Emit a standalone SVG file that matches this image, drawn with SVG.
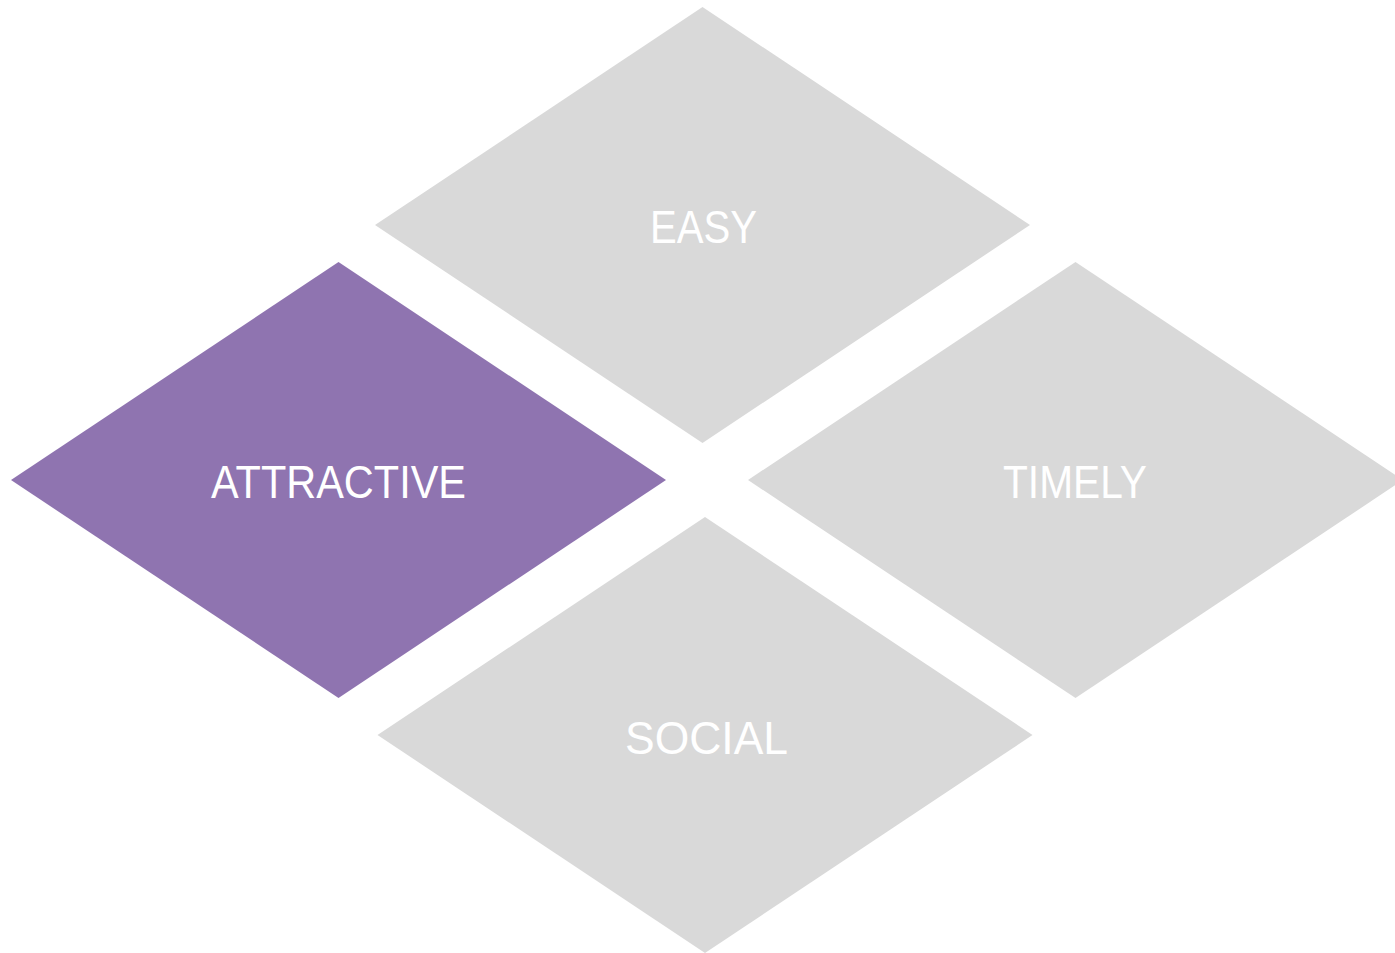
<svg xmlns="http://www.w3.org/2000/svg" width="1395" height="953" viewBox="0 0 1395 953">
<style>
.grey{fill:#d9d9d9}
.purple{fill:#8f74b0}
.lbl{fill:#ffffff;font-family:"Liberation Sans",Arial,sans-serif;font-size:46px;text-anchor:middle}
</style>
<rect width="1395" height="953" fill="#ffffff"/>
<g id="connectors"/>
<g id="easy">
<polygon class="grey" points="702.5,7 1030,225 702.5,443 375,225"/>
<text class="lbl" x="703.5" y="243" textLength="107" lengthAdjust="spacingAndGlyphs">EASY</text>
</g>
<g id="attractive">
<polygon class="purple" points="338.5,262 666,480 338.5,698 11,480"/>
<text class="lbl" x="338.5" y="498" textLength="255" lengthAdjust="spacingAndGlyphs">ATTRACTIVE</text>
</g>
<g id="timely">
<polygon class="grey" points="1075.5,262 1403,480 1075.5,698 748,480"/>
<text class="lbl" x="1075" y="498" textLength="144" lengthAdjust="spacingAndGlyphs">TIMELY</text>
</g>
<g id="social">
<polygon class="grey" points="705,517 1032.5,735 705,953 377.5,735"/>
<text class="lbl" x="706.5" y="754" textLength="163" lengthAdjust="spacingAndGlyphs">SOCIAL</text>
</g>
</svg>
